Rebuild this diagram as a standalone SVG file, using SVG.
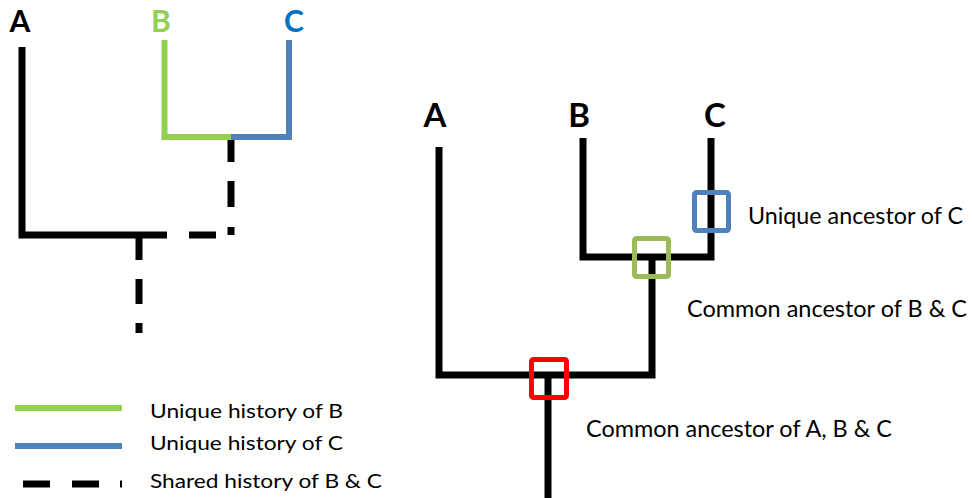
<svg xmlns="http://www.w3.org/2000/svg" width="972" height="498" viewBox="0 0 972 498">
  <style>
    .br { fill: none; stroke: #000; stroke-width: 7; stroke-linejoin: miter; }
    .dash { fill: none; stroke: #000; stroke-width: 7; }
    .grn { fill: none; stroke: #92D050; stroke-width: 6; }
    .blu { fill: none; stroke: #4F81BD; stroke-width: 6; }
    .tip { font-family: Lato, "Open Sans", sans-serif; font-weight: bold; text-anchor: middle; }
    .lbl { font-family: Lato, "Open Sans", sans-serif; fill: #000; }
    .box { fill: none; stroke-width: 5; }
  </style>

  <!-- left tree: shared vs unique history -->
  <g id="left-tree">
    <text class="tip" x="20" y="32" font-size="30" fill="#000">A</text>
    <text class="tip" x="161" y="32" font-size="30" fill="#92D050">B</text>
    <text class="tip" x="294" y="32" font-size="30" fill="#0070C0">C</text>
    <path class="br" d="M22,47 V235 H167"/>
    <path class="dash" d="M189,235 H216"/>
    <path class="dash" d="M231,138 V162 M231,181 V207 M231,227 V235"/>
    <path class="dash" d="M139,235 V260 M139,279 V304 M139,323 V333"/>
    <path class="grn" d="M164.5,40 V137 H231"/>
    <path class="blu" d="M289,40 V137 H231"/>
  </g>

  <!-- legend -->
  <g id="legend">
    <line class="grn" x1="15" y1="408" x2="122" y2="408"/>
    <line class="blu" x1="15" y1="446" x2="122" y2="446"/>
    <path class="dash" d="M23,484 H50 M72,484 H99 M120,484 H122"/>
    <text class="lbl" x="150" y="418" font-size="18.5" textLength="193" lengthAdjust="spacingAndGlyphs">Unique history of B</text>
    <text class="lbl" x="150" y="450" font-size="18.5" textLength="193" lengthAdjust="spacingAndGlyphs">Unique history of C</text>
    <text class="lbl" x="150" y="488" font-size="18.5" textLength="232" lengthAdjust="spacingAndGlyphs">Shared history of B &amp; C</text>
  </g>

  <!-- right tree: ancestors -->
  <g id="right-tree">
    <text class="tip" x="435" y="127" font-size="33" fill="#000">A</text>
    <text class="tip" x="579" y="127" font-size="33" fill="#000">B</text>
    <text class="tip" x="715" y="127" font-size="33" fill="#000">C</text>
    <path class="br" d="M583,138 V257 H711 V138"/>
    <path class="br" d="M439,147 V375 H652 V257"/>
    <path class="br" d="M548,375 V498"/>
  </g>

  <g id="ancestor-C">
    <rect class="box" x="694.5" y="192.5" width="34" height="38" rx="2" stroke="#4F81BD"/>
    <text class="lbl" x="748" y="224" font-size="24" textLength="215" lengthAdjust="spacingAndGlyphs">Unique ancestor of C</text>
  </g>

  <g id="ancestor-BC">
    <rect class="box" x="634.5" y="238.5" width="34" height="38" rx="2" stroke="#9BBB59"/>
    <text class="lbl" x="687" y="317" font-size="24" textLength="280" lengthAdjust="spacingAndGlyphs">Common ancestor of B &amp; C</text>
  </g>

  <g id="ancestor-ABC">
    <rect class="box" x="531.5" y="359.5" width="35" height="38" rx="2" stroke="#FF0000"/>
    <text class="lbl" x="586" y="437" font-size="24" textLength="306" lengthAdjust="spacingAndGlyphs">Common ancestor of A, B &amp; C</text>
  </g>
</svg>
